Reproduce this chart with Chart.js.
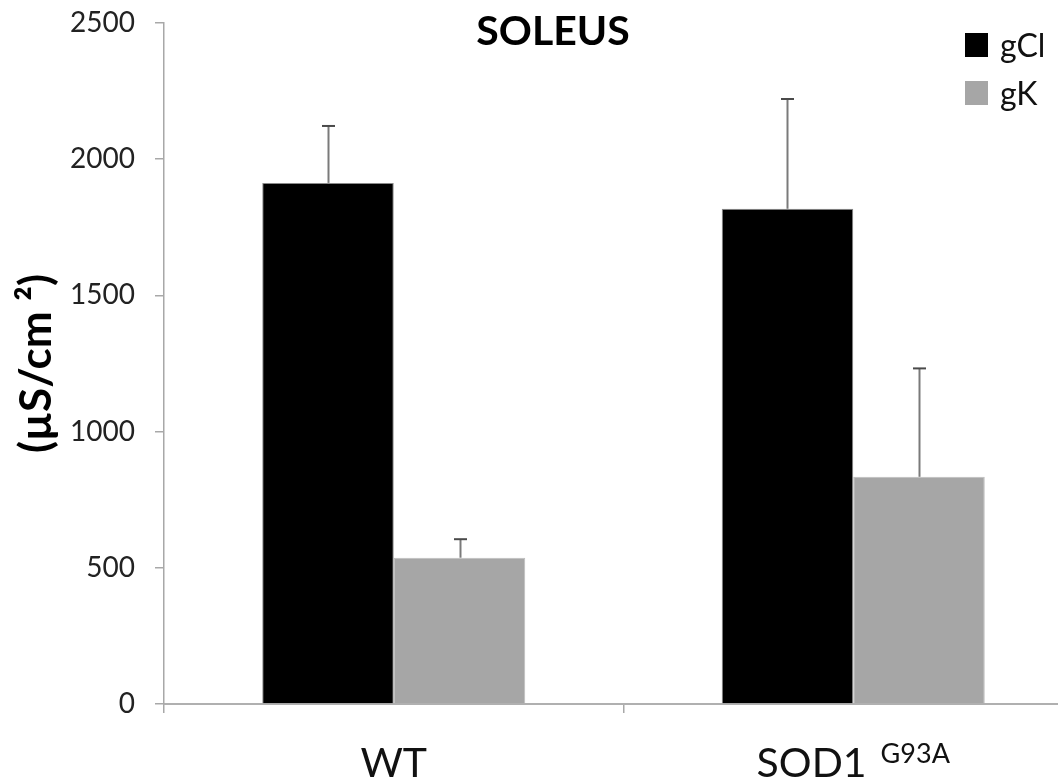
<!DOCTYPE html>
<html>
<head>
<meta charset="utf-8">
<script src="https://cdn.jsdelivr.net/npm/chart.js@4.4.1/dist/chart.umd.min.js"></script>
<style>
  html, body { margin: 0; padding: 0; background: #fff; overflow: hidden; }
  #wrap { width: 1100px; height: 782px; }
</style>
</head>
<body>
<div id="wrap"><canvas id="c" width="1100" height="782"></canvas></div>
<script>
// ---- data ----
const categories = ["WT", "SOD1"];
const categorySuperscripts = ["", "G93A"];
const seriesNames = ["gCl", "gK"];
const gClValues = [1913, 1818];
const gClErrors = [209, 403];
const gKValues = [537, 834];
const gKErrors = [68, 398];
const yTicks = [0, 500, 1000, 1500, 2000, 2500];
const chartTitle = "SOLEUS";
const yAxisTitle = "(µS/cm ²)";

const FONT = "Lato, 'Open Sans', sans-serif";
const errorsByDataset = [gClErrors, gKErrors];

const errorBarPlugin = {
  id: 'errorBars',
  afterDatasetsDraw(chart) {
    const ctx = chart.ctx;
    const y = chart.scales.y;
    ctx.save();
    chart.data.datasets.forEach((ds, di) => {
      const meta = chart.getDatasetMeta(di);
      const errs = errorsByDataset[di];
      meta.data.forEach((el, i) => {
        const v = ds.data[i];
        const yTop = y.getPixelForValue(v + errs[i]);
        const yBar = y.getPixelForValue(v);
        const x = Math.round(el.x) + 0.5;
        ctx.strokeStyle = '#7a7a7a';
        ctx.lineWidth = 2;
        ctx.beginPath();
        ctx.moveTo(x, yBar);
        ctx.lineTo(x, yTop);
        ctx.stroke();
        ctx.strokeStyle = '#4a4a4a';
        ctx.lineWidth = 2;
        ctx.beginPath();
        ctx.moveTo(x - 6.5, yTop);
        ctx.lineTo(x + 6.5, yTop);
        ctx.stroke();
      });
    });
    ctx.restore();
  }
};

const textPlugin = {
  id: 'texts',
  afterDraw(chart) {
    const ctx = chart.ctx;
    const xs = chart.scales.x;
    ctx.save();
    // title
    ctx.fillStyle = '#000';
    ctx.font = "bold 41px " + FONT;
    ctx.textAlign = 'center';
    ctx.textBaseline = 'alphabetic';
    ctx.fillText(chartTitle, 553, 45);
    // category labels with superscripts
    categories.forEach((lab, i) => {
      const cx = xs.getPixelForValue(i);
      const mainFont = "41px " + FONT;
      const supFont = "27px " + FONT;
      ctx.font = mainFont;
      const w1 = ctx.measureText(lab).width;
      const sup = categorySuperscripts[i];
      let w2 = 0, gap = 0;
      if (sup) {
        ctx.font = supFont;
        w2 = ctx.measureText(sup).width;
        gap = 14;
      }
      const total = w1 + gap + w2;
      const start = cx - total / 2;
      ctx.textAlign = 'left';
      ctx.fillStyle = '#111';
      ctx.font = mainFont;
      ctx.fillText(lab, start, 777);
      if (sup) {
        ctx.font = supFont;
        ctx.fillText(sup, start + w1 + gap, 763);
      }
    });
    // legend
    const legendColors = ['#000000', '#a6a6a6'];
    ctx.font = "32px " + FONT;
    ctx.textAlign = 'left';
    ctx.textBaseline = 'alphabetic';
    seriesNames.forEach((n, i) => {
      const top = 33 + i * 48;
      ctx.fillStyle = legendColors[i];
      ctx.fillRect(965, top, 23, 24);
      ctx.fillStyle = '#111';
      ctx.fillText(n, 1000, top + 24);
    });
    ctx.restore();
  }
};

new Chart(document.getElementById('c'), {
  type: 'bar',
  data: {
    labels: categories,
    datasets: [
      { label: seriesNames[0], data: gClValues, backgroundColor: '#000000', borderColor: '#8a8a8a', borderWidth: 1,
        categoryPercentage: 0.5724, barPercentage: 1.0 },
      { label: seriesNames[1], data: gKValues, backgroundColor: '#a6a6a6', borderColor: '#bdbdbd', borderWidth: 1,
        categoryPercentage: 0.5724, barPercentage: 1.0 }
    ]
  },
  options: {
    responsive: false,
    animation: false,
    events: [],
    layout: { padding: { top: 23, right: 17, left: 0, bottom: 0 } },
    plugins: {
      legend: { display: false },
      title: { display: false },
      tooltip: { enabled: false }
    },
    scales: {
      x: {
        afterFit(s) { s.height = 78; s.paddingLeft = 0; s.paddingRight = 0; },
        grid: { display: true, drawOnChartArea: false, drawTicks: true, tickLength: 9, color: '#a8a8a8', lineWidth: 1.5, offset: true },
        border: { display: true, color: '#b0b0b0', width: 2 },
        ticks: { display: false }
      },
      y: {
        min: 0, max: 2500,
        afterFit(s) { s.width = 164; s.paddingTop = 0; s.paddingBottom = 0; },
        afterBuildTicks(s) { s.ticks = yTicks.map(v => ({ value: v })); },
        grid: { display: true, drawOnChartArea: false, drawTicks: true, tickLength: 9, color: '#a8a8a8', lineWidth: 1.5 },
        border: { display: true, color: '#a8a8a8', width: 1.5 },
        ticks: { font: { family: FONT, size: 28 }, color: '#222', padding: 20, callback: (v) => String(v) },
        title: { display: true, text: yAxisTitle, font: { family: FONT, size: 44, weight: 'bold' }, color: '#000', padding: { top: 10, bottom: 0 } }
      }
    }
  },
  plugins: [errorBarPlugin, textPlugin]
});
</script>
</body>
</html>
